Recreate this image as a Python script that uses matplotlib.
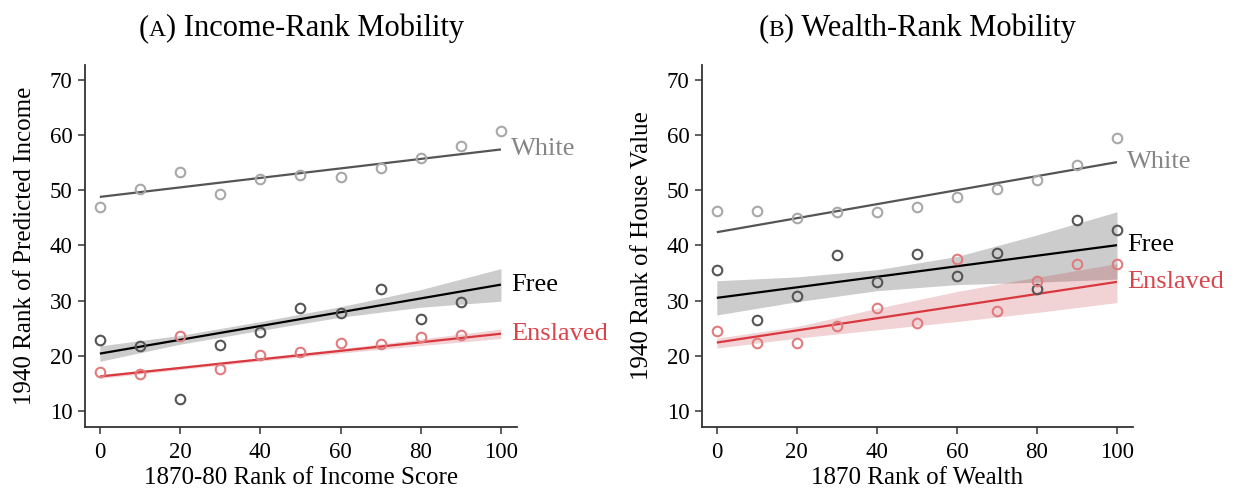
import matplotlib
matplotlib.use("Agg")
import matplotlib.pyplot as plt
import numpy as np

# ---------------- data ----------------
bins = [0, 10, 20, 30, 40, 50, 60, 70, 80, 90, 100]
band_x = [0, 20, 40, 60, 80, 100]
line_x = [0, 100]

# Panel A: income-rank mobility
a_white_x = [0, 10, 20, 30, 40, 50, 60, 70, 80, 90, 100]
a_white_y = [47.0, 50.2, 53.4, 49.4, 52.0, 52.8, 52.4, 54.1, 55.8, 58.0, 60.8]
a_white_fit = [48.8, 57.4]

a_free_x = [0, 10, 20, 30, 40, 50, 60, 70, 80, 90]
a_free_y = [22.8, 21.8, 12.2, 22.0, 24.3, 28.7, 27.7, 32.1, 26.6, 29.7]
a_free_fit = [20.4, 32.9]
a_free_hi = [21.8, 23.7, 26.2, 28.9, 32.0, 35.8]
a_free_lo = [19.0, 22.1, 24.6, 27.0, 28.8, 29.9]

a_ensl_x = [0, 10, 20, 30, 40, 50, 60, 70, 80, 90]
a_ensl_y = [17.0, 16.7, 23.6, 17.6, 20.1, 20.7, 22.3, 22.2, 23.5, 23.7]
a_ensl_fit = [16.25, 24.0]
a_ensl_hi = [16.6, 18.1, 19.65, 21.3, 23.05, 24.85]
a_ensl_lo = [15.9, 17.5, 19.05, 20.5, 21.85, 23.15]

# Panel B: wealth-rank mobility
b_white_x = bins
b_white_y = [46.3, 46.3, 44.9, 46.1, 46.1, 46.9, 48.7, 50.3, 51.9, 54.5, 59.4]
b_white_fit = [42.4, 55.1]

b_free_x = bins
b_free_y = [35.5, 26.5, 30.75, 38.3, 33.3, 38.4, 34.5, 38.6, 32.1, 44.7, 42.8]
b_free_fit = [30.5, 40.05]
b_free_hi = [33.6, 34.3, 35.6, 38.0, 41.9, 46.1]
b_free_lo = [27.4, 29.8, 31.8, 32.9, 33.35, 33.9]

b_ensl_x = bins
b_ensl_y = [24.5, 22.4, 22.3, 25.4, 28.7, 25.9, 37.5, 28.2, 33.5, 36.6, 36.7]
b_ensl_fit = [22.4, 33.4]
b_ensl_hi = [23.2, 25.3, 28.6, 31.65, 34.25, 36.7]
b_ensl_lo = [21.4, 23.2, 24.7, 26.2, 27.85, 29.65]

y_ticks = [10, 20, 30, 40, 50, 60, 70]
x_ticks = [0, 20, 40, 60, 80, 100]
group_labels = ["White", "Free", "Enslaved"]

panel_letters = ["A", "B"]
panel_titles = [" Income-Rank Mobility", " Wealth-Rank Mobility"]
x_labels = ["1870-80 Rank of Income Score", "1870 Rank of Wealth"]
y_labels = ["1940 Rank of Predicted Income", "1940 Rank of House Value"]

# ---------------- style ----------------
FONT = "Liberation Serif"
plt.rcParams["font.family"] = [FONT, "DejaVu Serif"]

c_white_pt = "#a8a8a8"
c_white_ln = "#555555"
c_white_tx = "#858585"
c_free_pt = "#555555"
c_free_ln = "#000000"
c_free_band = "#cccccc"
c_ensl_pt = "#e07b7e"
c_ensl_ln = "#d9383e"
c_ensl_band = (185 / 255, 35 / 255, 50 / 255, 0.2)
c_ensl_tx = "#d9454b"

W, H = 1236, 493
fig = plt.figure(figsize=(W / 100, H / 100), dpi=100)

axA = fig.add_axes([85 / W, 1 - 427 / H, (517 - 85) / W, (427 - 65) / H])
axB = fig.add_axes([702 / W, 1 - 427 / H, (1133 - 702) / W, (427 - 65) / H])

panels = [
    (axA, (a_white_x, a_white_y, a_white_fit),
     (a_free_x, a_free_y, a_free_fit, a_free_hi, a_free_lo),
     (a_ensl_x, a_ensl_y, a_ensl_fit, a_ensl_hi, a_ensl_lo)),
    (axB, (b_white_x, b_white_y, b_white_fit),
     (b_free_x, b_free_y, b_free_fit, b_free_hi, b_free_lo),
     (b_ensl_x, b_ensl_y, b_ensl_fit, b_ensl_hi, b_ensl_lo)),
]

mk = dict(marker="o", linestyle="none", markersize=6.9, markerfacecolor="none",
          markeredgewidth=1.5)

LABEL_FS = 19
for i, (ax, wh, fr, en) in enumerate(panels):
    # bands
    ax.fill_between(band_x, fr[4], fr[3], color=c_free_band, lw=0, zorder=1)
    ax.fill_between(band_x, en[4], en[3], color=c_ensl_band, lw=0, zorder=2)
    # lines
    ax.plot(line_x, wh[2], color=c_white_ln, lw=1.6, zorder=3, solid_capstyle="butt")
    ax.plot(line_x, fr[2], color=c_free_ln, lw=1.6, zorder=3, solid_capstyle="butt")
    ax.plot(line_x, en[2], color=c_ensl_ln, lw=1.6, zorder=3, solid_capstyle="butt")
    # points
    ax.plot(wh[0], wh[1], markeredgecolor=c_white_pt, zorder=4, **mk)
    ax.plot(fr[0], fr[1], markeredgecolor=c_free_pt, zorder=4, **mk)
    ax.plot(en[0], en[1], markeredgecolor=c_ensl_pt, zorder=4, **mk)
    # labels at line ends
    lx = 102.6
    ax.text(lx, wh[2][1], group_labels[0], color=c_white_tx, fontsize=LABEL_FS,
            va="center", ha="left", clip_on=False)
    ax.text(lx, fr[2][1], group_labels[1], color="black", fontsize=LABEL_FS,
            va="center", ha="left", clip_on=False)
    ax.text(lx, en[2][1], group_labels[2], color=c_ensl_tx, fontsize=LABEL_FS,
            va="center", ha="left", clip_on=False)

    ax.set_xlim(-3.7, 104)
    ax.set_ylim(7.1, 72.7)
    ax.set_xticks(x_ticks)
    ax.set_yticks(y_ticks)
    ax.tick_params(axis="x", pad=6)
    ax.tick_params(axis="y", pad=4)
    ax.tick_params(axis="both", labelsize=16.5, length=5, width=1.1, direction="out",
                   color="#333333")
    for s in ["top", "right"]:
        ax.spines[s].set_visible(False)
    for s in ["left", "bottom"]:
        ax.spines[s].set_linewidth(1.3)
        ax.spines[s].set_color("#333333")
    ax.set_xlabel(x_labels[i], fontsize=18, labelpad=3)
    ax.set_ylabel(y_labels[i], fontsize=18, labelpad=10)

# titles with small-caps panel letter
fig.canvas.draw()
renderer = fig.canvas.get_renderer()


def title_pieces(ax, letter, rest, y_px=36):
    bb = ax.get_window_extent(renderer)
    cx = (bb.x0 + bb.x1) / 2
    pieces = [("(", 22), (letter, 17), (")" + rest, 22)]
    texts = []
    widths = []
    for s, fs in pieces:
        t = fig.text(0, 0, s, fontsize=fs, va="baseline", ha="left")
        widths.append(t.get_window_extent(renderer).width)
        texts.append(t)
    total = sum(widths)
    x = cx - total / 2
    yb = (H - y_px) / H
    for t, w in zip(texts, widths):
        t.set_position((x / W, yb))
        x += w


for ax, letter, rest in zip([axA, axB], panel_letters, panel_titles):
    title_pieces(ax, letter, rest)

fig.savefig("out.png", dpi=100)
